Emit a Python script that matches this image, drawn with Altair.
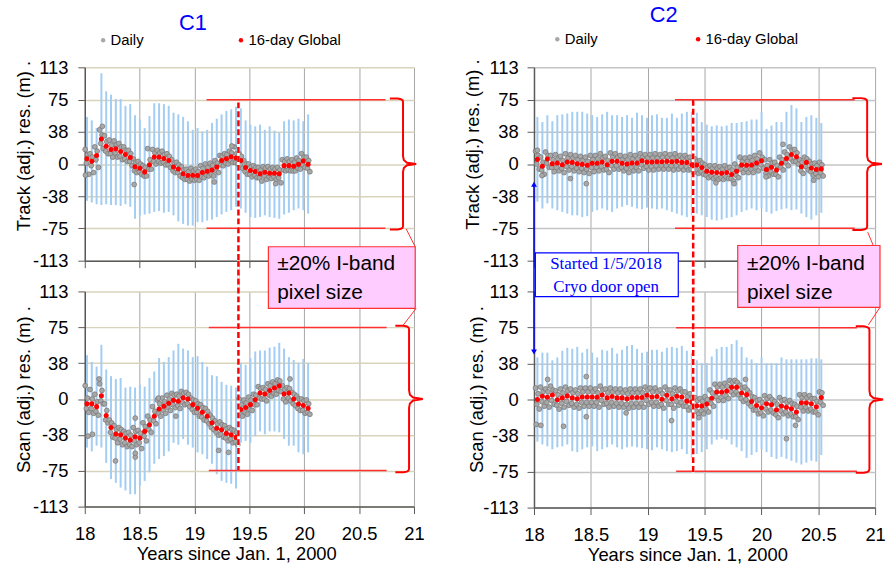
import altair as alt
import pandas as pd

# ---------------- data ----------------
DAYS_PER_YEAR = 365.25
BIN_DAYS = 16

SERIES = ["Daily", "16-day Global"]

# C1 ---------------------------------------------------------------
c1_start = 18.02
c1_track_mean = [6.1, 3.1, 10, 29.2, 20.7, 16.9, 17.7, 14.6, 11.1, 7.7, -3.1, -5, -9.2, -0.8, 8.1,
                 8.1, 6.5, 4.2, -3.5, -5.8, -11.5, -13.5, -13.1, -13.5, -10, -8.5, -6.9, -3.5, 4.2, 6.1,
                 8.5, 6.9, 4.2, -4.2, -7.7, -8.8, -11.5, -9.6, -10.8, -10.8, -11.5, -1.9, -1.9, -2.7, -0.4,
                 3.5, -0.4]
c1_track_bar_hi = [55, 51, 42, 106, 85, 81, 76, 76, 68, 70, 57, 52, 42, 56, 71, 71, 70, 68, 60, 58,
                   55, 50, 40, 42, 38, 40, 48, 53, 58, 62, 64, 67, 65, 51, 46, 44, 46, 40, 44, 39,
                   37, 50, 52, 51, 53, 50, 58]
c1_track_bar_lo = [-43, -45, -47, -48, -47, -48, -48, -49, -47, -50, -64, -60, -59, -58, -56, -55, -57,
                   -56, -60, -67, -70, -72, -72, -68, -68, -66, -65, -62, -59, -56, -54, -50, -52, -57,
                   -62, -63, -62, -60, -62, -63, -64, -59, -57, -54, -52, -54, -58]
# daily samples in each 16-day bin: outer high, inner low, inner high, outer low
c1_track_daily_hi = [17, 12, 20, 40, 33, 28, 27, 24, 20, 16, 6, 3, -2, 18, 17, 16, 15, 12, 5, 2,
                     -3, -6, -5, -6, -2, 0, 1, 4, 10, 12, 15, 20, 12, 4, 0, -2, -4, -3, -3, -4,
                     -4, 5, 6, 5, 7, 12, 8]
c1_track_daily_lo2 = [1, -2, 5, 24, 15, 12, 13, 9, 6, 3, -8, -9, -14, -6, 3, 3, 2, -1, -8, -10,
                      -16, -18, -18, -18, -15, -13, -12, -8, -1, 1, 4, 2, -1, -9, -12, -13, -16, -14,
                      -15, -15, -16, -7, -7, -8, -5, -1, -5]
c1_track_daily_hi2 = [11, 8, 15, 34, 26, 22, 22, 20, 16, 12, 2, 0, -4, 5, 13, 13, 11, 9, 1, -1,
                      -7, -9, -8, -9, -5, -4, -2, 1, 9, 11, 13, 12, 9, 0, -3, -4, -7, -5, -6, -6,
                      -7, 3, 3, 2, 4, 8, 4]
c1_track_daily_lo = [-12, -10, -4, 18, 12, 8, 8, 5, 3, -2, -10, -12, -14, -6, 0, 1, -1, -4, -10, -14,
                     -18, -20, -19, -19, -16, -14, -14, -10, -2, 0, 2, 0, -5, -12, -15, -16, -20, -18,
                     -17, -18, -22, -8, -8, -8, -6, -4, -9]
c1_track_out_t = [18.006, 18.16, 18.45, 19.18, 19.34, 19.74]
c1_track_out_v = [-13, 44, -24, -21, 21, -23]

c1_scan_mean = [-4.9, -4.9, -8, 3.5, -17.4, -29.9, -36.8, -37.5, -41, -43, -39.6, -41, -34, -27, -18,
                -10.4, -7.6, -4.5, -1.4, -2.4, 1.4, 0, -5.9, -9.7, -13.9, -18, -25, -30.6, -32.3, -36.1,
                -37.5, -40.3, -11.1, -9, -5.9, -0.7, 6.2, 5.2, 9, 11.5, 13.9, 5.2, 6.2, 0, -5.2,
                -6.9, -9.7]
c1_scan_bar_hi = [46, 39, 34, 57, 31, 24, 21, 22, 12, 13, 12, 15, 13, 22, 29, 43, 39, 44, 51, 58,
                  53, 51, 44, 45, 39, 34, 25, 24, 18, 15, 14, 12, 38, 36, 43, 50, 51, 51, 54, 55,
                  59, 53, 44, 41, 38, 42, 38]
c1_scan_bar_lo = [-51, -55, -49, -51, -67, -84, -88, -93, -96, -100, -100, -91, -86, -77, -68, -63, -60,
                  -55, -46, -48, -42, -48, -51, -56, -58, -63, -68, -79, -86, -88, -89, -94, -46, -44,
                  -46, -39, -34, -37, -34, -34, -35, -42, -49, -49, -56, -58, -56]
c1_scan_daily_hi = [14, 10, 5, 16, -5, -22, -28, -30, -34, -35, -30, -33, -25, -18, -8, -1, 1, 4, 6, 5,
                    8, 7, 1, -2, -6, -10, -17, -23, -24, -28, -30, -33, 0, -1, 2, 5, 13, 12, 16, 18,
                    20, 14, 12, 7, 3, 0, -1]
c1_scan_daily_lo2 = [-10, -10, -13, -2, -22, -35, -41, -42, -46, -48, -44, -46, -39, -32, -23, -15, -12,
                     -9, -6, -7, -4, -5, -11, -14, -19, -23, -30, -35, -37, -41, -42, -45, -16, -14,
                     -11, -6, 1, 0, 4, 6, 9, 0, 1, -5, -10, -12, -14]
c1_scan_daily_hi2 = [1, 0, -3, 9, -12, -25, -32, -32, -36, -38, -34, -36, -29, -22, -13, -5, -3, 0, 4, 3,
                     6, 5, -1, -5, -9, -13, -20, -26, -27, -31, -32, -35, -6, -4, -1, 4, 11, 10, 14, 16,
                     19, 10, 11, 5, 0, -2, -5]
c1_scan_daily_lo = [-14, -15, -17, -5, -25, -40, -46, -48, -50, -50, -48, -52, -44, -35, -26, -18, -15,
                    -12, -9, -10, -6, -8, -14, -18, -22, -26, -32, -38, -40, -44, -46, -48, -18, -16,
                    -12, -6, 0, -2, 3, 5, 8, -3, -2, -7, -12, -15, -16]
c1_scan_out_t = [18.03, 18.07, 18.28, 18.46, 18.46, 18.46, 18.67, 18.83, 19.22, 19.31, 18.13, 19.87]
c1_scan_out_v = [-39, -37, -65, -61, -57, -20, 1, -18, -54, -56, 21, 21]

# C2 ---------------------------------------------------------------
c2_start = 18.03
c2_track_mean = [5.4, -2.7, 5.8, 0.4, 1.2, -0.8, 2.3, 1.9, 0.4, -0.4, -1.5, 0.8, 0.8, 2.3, -0.8,
                 3.1, 3.1, 0.8, 0, 1.2, 1.2, 3.8, 2.3, 2.3, 2.7, 2.7, 3.1, 2.7, 3.1, 1.9,
                 1.9, -0.8, -1.2, -4.2, -8.5, -9.6, -10, -10.8, -10, -12.3, -8.5, -1.2, -1.5, -1.2, 1.2,
                 3.8, -6.5, -3.8, -6.9, 0.8, 6.5, 11.1, 8.4, -3.1, 1.9, -4.6, -6.5, -5.7]
c2_track_bar_hi = [55, 49, 57, 50, 57, 58, 59, 61, 61, 61, 59, 57, 55, 58, 61, 57, 57, 55, 57, 54,
                   60, 57, 54, 57, 58, 54, 54, 59, 54, 59, 61, 61, 60, 49, 46, 44, 45, 44, 45, 48,
                   48, 49, 50, 52, 52, 61, 41, 45, 49, 49, 61, 69, 65, 49, 55, 57, 54, 48]
c2_track_bar_lo = [-44, -52, -46, -52, -54, -56, -58, -60, -60, -62, -61, -56, -54, -52, -54, -56, -52,
                   -50, -48, -50, -52, -53, -51, -52, -53, -52, -54, -56, -58, -60, -62, -60, -58, -60,
                   -62, -65, -66, -65, -63, -62, -60, -56, -54, -52, -54, -52, -56, -58, -55, -53,
                   -52, -54, -53, -58, -62, -65, -60, -57]
c2_track_daily_hi = [15, 8, 14, 10, 11, 9, 12, 11, 10, 9, 8, 10, 10, 12, 9, 13, 12, 10, 9, 11,
                     10, 12, 11, 11, 12, 11, 12, 11, 12, 10, 10, 8, 6, 4, -1, -2, -2, -3, -2, -4,
                     0, 8, 7, 8, 10, 13, 5, 5, 2, 8, 14, 20, 17, 5, 8, 3, 1, 2]
c2_track_daily_lo2 = [0, -7, 1, -4, -4, -5, -3, -3, -5, -5, -6, -4, -4, -3, -6, -2, -2, -4, -5, -4,
                      -4, -1, -3, -3, -2, -2, -2, -2, -2, -3, -3, -6, -6, -9, -13, -14, -15, -16, -15,
                      -17, -13, -6, -6, -6, -4, -1, -11, -9, -12, -4, 2, 6, 3, -8, -3, -9, -11, -10]
c2_track_daily_hi2 = [10, 2, 10, 5, 6, 4, 7, 7, 5, 4, 3, 5, 6, 7, 4, 8, 8, 5, 5, 6, 6, 8, 7, 7, 7,
                      8, 8, 7, 8, 7, 7, 4, 3, 1, -4, -5, -5, -6, -5, -7, -4, 3, 3, 4, 6, 8, -2, 1, -2,
                      5, 11, 16, 13, 2, 6, 0, -2, -1]
c2_track_daily_lo = [-6, -12, -4, -9, -8, -10, -7, -8, -9, -10, -11, -9, -8, -7, -10, -6, -6, -8, -10,
                     -8, -8, -5, -7, -7, -6, -6, -6, -7, -6, -7, -7, -10, -11, -12, -16, -17, -18, -18,
                     -17, -20, -16, -10, -10, -10, -8, -5, -14, -12, -15, -7, -2, 3, 0, -11, -7, -13,
                     -15, -14]
c2_track_out_t = [18.03, 18.07, 18.32, 18.46, 19.6, 19.76, 20.04, 20.19, 20.46]
c2_track_out_v = [16, -13.5, -17, -23, -22, -23, -15, 23, -19]

c2_scan_mean = [0, 3.4, 2.4, 4.8, -0.3, 1.7, 3.8, 1.7, 0.7, 2.7, 2.7, 2.7, 2.4, 4.8, 1.7,
                3.1, 1.7, 1.7, 0.7, 2.1, 2.1, 2.1, 4.5, 2.7, 3.1, 0.3, 4.5, 0.7, 3.4, 2.7,
                -1.7, -2.7, -6.5, -6.8, -4.8, 1.4, 7.9, 7.5, 8.9, 12.7, 12.7, 6.8, 5.1, -2.1, -6.2,
                -8.6, -4.5, -5.5, -10.6, -6.8, -8.2, -9.6, -13, -3.4, -3.4, -4.5, -7.5, 2]
c2_scan_bar_hi = [44, 49, 49, 41, 44, 51, 54, 53, 55, 49, 53, 49, 44, 52, 51, 54, 48, 52, 56, 57,
                  53, 49, 50, 52, 52, 50, 54, 55, 54, 56, 51, 49, 41, 38, 38, 45, 53, 55, 55, 58,
                  62, 55, 44, 42, 38, 44, 38, 38, 38, 44, 42, 42, 42, 42, 42, 43, 43, 42]
c2_scan_bar_lo = [-44, -47, -49, -52, -50, -49, -47, -54, -55, -52, -50, -49, -54, -52, -50, -47, -50,
                  -52, -50, -49, -50, -51, -52, -53, -50, -52, -54, -55, -54, -52, -57, -61, -57, -55,
                  -52, -47, -42, -41, -42, -47, -50, -54, -61, -58, -55, -52, -55, -60, -62, -60,
                  -62, -64, -66, -68, -66, -64, -65, -58]
c2_scan_daily_hi = [12, 13, 11, 14, 9, 11, 13, 11, 10, 12, 12, 12, 11, 14, 11, 12, 11, 11, 10, 11,
                    11, 11, 13, 12, 12, 10, 13, 10, 12, 11, 8, 6, 2, 1, 3, 10, 16, 16, 17, 20,
                    20, 15, 13, 7, 2, 0, 4, 3, -2, 2, 0, -1, -5, 5, 5, 4, 1, 8]
c2_scan_daily_lo2 = [-5, -2, -3, -1, -6, -4, -2, -4, -5, -3, -3, -3, -3, -1, -4, -3, -4, -4, -5, -4,
                     -4, -4, -1, -3, -3, -5, -1, -5, -2, -3, -7, -8, -12, -12, -10, -4, 3, 2, 4, 8,
                     8, 1, 0, -7, -11, -14, -10, -11, -16, -12, -13, -15, -18, -8, -8, -10, -13, -3]
c2_scan_daily_hi2 = [6, 8, 8, 10, 5, 7, 9, 7, 6, 8, 8, 8, 7, 10, 7, 8, 7, 7, 6, 7, 7, 7, 10, 8, 8,
                     6, 10, 6, 9, 8, 3, 2, -1, -2, 0, 7, 13, 13, 14, 18, 18, 12, 10, 3, -1, -3, 1, 0,
                     -5, -1, -3, -4, -7, 2, 2, 1, -2, 7]
c2_scan_daily_lo = [-10, -7, -8, -5, -10, -8, -6, -8, -9, -7, -7, -7, -8, -5, -8, -7, -8, -8, -9, -8,
                    -8, -8, -5, -7, -7, -9, -5, -9, -6, -7, -11, -12, -15, -15, -13, -7, -1, -1, 1, 5,
                    5, -2, -4, -11, -15, -17, -13, -14, -19, -15, -17, -18, -21, -12, -12, -13, -16, -6]
c2_scan_out_t = [18.02, 18.06, 18.26, 18.46, 18.46, 18.12, 18.81, 19.21, 19.45, 19.86, 20.22, 20.3]
c2_scan_out_v = [-26, -27, -28, -18, 24, 21, -14, -22, -19, 21, -41, -27]

# annotation values (data units)
event_t = 19.4
band_limit = 75
Y_TICKS = [-113, -75.33, -37.67, 0, 37.67, 75.33, 113]
X_TICKS = [18, 18.5, 19, 19.5, 20, 20.5, 21]
DAILY_DAY_OFFSETS = [-6, -2, 2, 6]

# ---------------- styling ----------------
FONT = "Liberation Sans"
SERIF = "Liberation Serif"
BAR_BLUE = "#a3cdf3"
GRAY_FILL = "#a8a8a8"
GRAY_EDGE = "#7a7a7a"
RED = "#ff0000"
LINE_RED = "#ff3030"
AXIS_DARK = "#595959"
TAN = "#d9d3bb"
LIGHT_GRAY = "#c4c4c4"
VGRID = "#a6a6a6"
PINK = "#ffccff"
BLUE = "#0000ff"

STEP = BIN_DAYS / DAYS_PER_YEAR
XS = alt.Scale(domain=[18, 21], nice=False, zero=False)
YS = alt.Scale(domain=[-113, 113], nice=False, zero=False)

BRACE_U = [0, 0.3, 0.42, 0.48, 0.5, 0.5, 0.53, 0.65, 1, 0.65, 0.53, 0.5, 0.5, 0.48, 0.42, 0.3, 0]
BRACE_W = [1, 1, 0.99, 0.975, 0.95, 0.12, 0.06, 0.02, 0, -0.02, -0.06, -0.12, -0.95, -0.975, -0.99, -1, -1]


def bins_frame(start, mean, bar_hi, bar_lo):
    t = [start + i * STEP for i in range(len(mean))]
    return pd.DataFrame({"t": t, "v": mean, "hi": bar_hi, "lo": bar_lo, "series": SERIES[1]})


def daily_frame(start, samples, out_t, out_v):
    t, v = [], []
    for i, vals in enumerate(zip(*samples)):
        c = start + i * STEP
        for off, val in zip(DAILY_DAY_OFFSETS, vals):
            t.append(c + off / DAYS_PER_YEAR)
            v.append(val)
    t += list(out_t)
    v += list(out_v)
    return pd.DataFrame({"t": t, "v": v, "series": SERIES[0]})


def y_axis(title, tx, ty, grid, pad):
    return alt.Axis(values=Y_TICKS,
                    labelExpr="datum.value < 0 ? '-' + format(-datum.value, '.0f') : format(datum.value, '.0f')",
                    labelFlush=False,
                    title=title, titleX=tx, titleY=ty, titleAngle=-90, titleAlign="center",
                    titleBaseline="middle", titleFont=FONT, titleFontSize=18.5, titleFontWeight="normal",
                    titleColor="black", labelFont=FONT, labelFontSize=18.5, labelColor="black",
                    labelPadding=pad, tickSize=7, tickColor=AXIS_DARK, domainColor=AXIS_DARK,
                    domainWidth=1.5, gridColor=grid, gridWidth=1.5)


def x_axis(bottom, tx=0):
    if bottom:
        return alt.Axis(values=X_TICKS, format="~g", labelFlush=False,
                        title="Years since Jan. 1, 2000", titleX=tx,
                        titleY=47, titleAlign="center", titleBaseline="middle", titleFont=FONT,
                        titleFontSize=18.5, titleFontWeight="normal", titleColor="black",
                        labelFont=FONT, labelFontSize=18.5, labelColor="black", labelPadding=11,
                        tickSize=7, tickColor=AXIS_DARK, domainColor=AXIS_DARK, domainWidth=1.5,
                        gridColor=VGRID, gridWidth=1)
    return alt.Axis(values=X_TICKS, labels=False, title=None, tickSize=7, tickColor=AXIS_DARK,
                    domainColor=AXIS_DARK, domainWidth=1.5, gridColor=VGRID, gridWidth=1)


def panel(bins, daily, w, h, xa, ya, ann, legend=None):
    X = lambda f: alt.X(f, type="quantitative", scale=XS, axis=xa)
    Y = lambda f: alt.Y(f, type="quantitative", scale=YS, axis=ya)
    layers = []
    layers.append(alt.Chart(bins).mark_rule(color=BAR_BLUE, strokeWidth=2).encode(
        x=X("t"), y=Y("lo"), y2="hi"))
    if legend is not None:
        color = alt.Color("series:N", scale=alt.Scale(domain=SERIES, range=[GRAY_FILL, RED]),
                          legend=legend)
        layers.append(alt.Chart(daily).mark_point(shape="circle", filled=True, size=24, opacity=1,
                                                  stroke=GRAY_EDGE, strokeWidth=0.8).encode(
            x=X("t"), y=Y("v"), color=color))
        layers.append(alt.Chart(bins).mark_circle(size=26, opacity=1).encode(
            x=X("t"), y=Y("v"), color=color))
    else:
        layers.append(alt.Chart(daily).mark_point(shape="circle", filled=True, size=24, opacity=1,
                                                  color=GRAY_FILL, stroke=GRAY_EDGE,
                                                  strokeWidth=0.8).encode(x=X("t"), y=Y("v")))
        layers.append(alt.Chart(bins).mark_circle(size=26, opacity=1, color=RED).encode(
            x=X("t"), y=Y("v")))

    # limit lines at +-75
    x1, x2 = ann["hline"]
    hl = pd.DataFrame({"x1": [x1, x1], "x2": [x2, x2], "y": [band_limit, -band_limit]})
    layers.append(alt.Chart(hl).mark_rule(color=LINE_RED, strokeWidth=1.5).encode(
        x=X("x1"), x2="x2", y=Y("y")))
    # event line
    d_top, d_bot = ann["dash"]
    dl = pd.DataFrame({"x": [event_t], "y1": [d_top], "y2": [d_bot]})
    layers.append(alt.Chart(dl).mark_rule(color="white", strokeWidth=2.5).encode(
        x=X("x"), y=Y("y1"), y2="y2"))
    layers.append(alt.Chart(dl).mark_rule(color=RED, strokeWidth=2.5, strokeDash=[6, 3]).encode(
        x=X("x"), y=Y("y1"), y2="y2"))
    # brace
    bl, bt, half = ann["brace"]
    br = pd.DataFrame({"bx": [bl + u * (bt - bl) for u in BRACE_U],
                       "by": [wv * half for wv in BRACE_W], "k": list(range(len(BRACE_U)))})
    layers.append(alt.Chart(br).mark_line(color=RED, strokeWidth=2).encode(
        x=X("bx"), y=Y("by"), order="k:Q"))
    # boxes
    for bx in ann.get("boxes", []):
        df = pd.DataFrame({"x1": [bx["x"][0]], "x2": [bx["x"][1]], "y1": [bx["y"][0]], "y2": [bx["y"][1]]})
        layers.append(alt.Chart(df).mark_rect(fill=bx["fill"], stroke=bx["stroke"],
                                              strokeWidth=1.2).encode(
            x=X("x1"), x2="x2", y=Y("y1"), y2="y2"))
    for seg in ann.get("segments", []):
        df = pd.DataFrame({"x1": [seg["p"][0]], "y1": [seg["p"][1]], "x2": [seg["q"][0]], "y2": [seg["q"][1]]})
        layers.append(alt.Chart(df).mark_rule(color=seg["color"], strokeWidth=seg["w"]).encode(
            x=X("x1"), y=Y("y1"), x2="x2", y2="y2"))
    for tx in ann.get("texts", []):
        df = pd.DataFrame({"x": [tx["x"]] * len(tx["lines"]), "y": tx["ys"], "label": tx["lines"]})
        layers.append(alt.Chart(df).mark_text(align=tx["align"], baseline="middle", font=tx["font"],
                                              fontSize=tx["size"], color=tx["color"]).encode(
            x=X("x"), y=Y("y"), text="label:N"))
    for hd in ann.get("heads", []):
        df = pd.DataFrame({"x": [hd["x"]], "y": [hd["y"]]})
        layers.append(alt.Chart(df).mark_point(shape=hd["shape"], filled=True, size=35, color=BLUE,
                                               opacity=1).encode(x=X("x"), y=Y("y")))
    return alt.layer(*layers).properties(width=w, height=h)


def legend_params(lx, ly, cp):
    return alt.Legend(title=None, orient="none", legendX=lx, legendY=ly, direction="horizontal",
                      columnPadding=cp, labelFont=FONT, labelFontSize=15, labelColor="black",
                      symbolSize=20, symbolType="circle", labelOffset=0, padding=0,
                      symbolStrokeWidth=0)


def head_text(x, y, label):
    return {"x": x, "ys": [y], "lines": [label], "align": "center", "font": FONT, "size": 22,
            "color": BLUE}


ann_tl = {"hline": (19.11, 20.74), "dash": (72, -149), "brace": (20.78, 21.02, 76.5),
          "texts": [head_text(18.986, 164.5, "C1")]}
ann_bl = {"hline": (19.13, 20.75), "dash": (145.3, -75), "brace": (20.83, 21.08, 77),
          "boxes": [{"x": (19.673, 21.011), "y": (95.3, 159.9), "fill": PINK, "stroke": LINE_RED}],
          "segments": [{"p": (20.929, 178.6), "q": (21.011, 159.9), "color": LINE_RED, "w": 1},
                       {"p": (21.020, 95.3), "q": (20.902, 77.6), "color": LINE_RED, "w": 1}],
          "texts": [{"x": 19.754, "ys": [142.2, 110.9], "lines": ["\u00b120% I-band", "pixel size"],
                     "align": "left", "font": FONT, "size": 21, "color": "black"}]}
ann_tr = {"hline": (19.24, 20.82), "dash": (75, -149), "brace": (20.80, 21.06, 77),
          "texts": [head_text(19.14, 173.8, "C2")]}
ann_br = {"hline": (19.25, 20.84), "dash": (145, -76.4), "brace": (20.83, 21.07, 76.5),
          "boxes": [{"x": (19.792, 21.043), "y": (96.4, 161), "fill": PINK, "stroke": LINE_RED},
                    {"x": (18.012, 19.269), "y": (107.5, 153.4), "fill": "white", "stroke": BLUE}],
          "segments": [{"p": (20.935, 174.9), "q": (20.984, 161), "color": LINE_RED, "w": 1},
                       {"p": (21.043, 96.4), "q": (20.941, 78.1), "color": LINE_RED, "w": 1},
                       {"p": (18.0, 225), "q": (18.0, 49.7), "color": BLUE, "w": 1.5}],
          "texts": [{"x": 19.873, "ys": [142, 110.9], "lines": ["\u00b120% I-band", "pixel size"],
                     "align": "left", "font": FONT, "size": 21, "color": "black"},
                    {"x": 18.634, "ys": [142, 117.9], "lines": ["Started 1/5/2018", "Cryo door open"],
                     "align": "center", "font": SERIF, "size": 17, "color": BLUE}],
          "heads": [{"x": 18.0, "y": 225, "shape": "triangle-up"},
                    {"x": 18.0, "y": 49.7, "shape": "triangle-down"}]}

tl = panel(bins_frame(c1_start, c1_track_mean, c1_track_bar_hi, c1_track_bar_lo),
           daily_frame(c1_start, [c1_track_daily_hi, c1_track_daily_lo2, c1_track_daily_hi2,
                                  c1_track_daily_lo], c1_track_out_t, c1_track_out_v),
           332, 195, x_axis(False), y_axis("Track (adj.) res. (m) .", -62, 79, TAN, 10), ann_tl,
           legend=legend_params(11, -35, 90))
tr = panel(bins_frame(c2_start, c2_track_mean, c2_track_bar_hi, c2_track_bar_lo),
           daily_frame(c2_start, [c2_track_daily_hi, c2_track_daily_lo2, c2_track_daily_hi2,
                                  c2_track_daily_lo], c2_track_out_t, c2_track_out_v),
           344, 195, x_axis(False), y_axis("Track (adj.) res. (m) .", -62, 77.5, LIGHT_GRAY, 9), ann_tr,
           legend=legend_params(16, -36, 93))
bl = panel(bins_frame(c1_start, c1_scan_mean, c1_scan_bar_hi, c1_scan_bar_lo),
           daily_frame(c1_start, [c1_scan_daily_hi, c1_scan_daily_lo2, c1_scan_daily_hi2,
                                  c1_scan_daily_lo], c1_scan_out_t, c1_scan_out_v),
           332, 217, x_axis(True, 152.7), y_axis("Scan (adj.) res. (m) .", -61.5, 98.5, TAN, 10), ann_bl)
br = panel(bins_frame(c2_start, c2_scan_mean, c2_scan_bar_hi, c2_scan_bar_lo),
           daily_frame(c2_start, [c2_scan_daily_hi, c2_scan_daily_lo2, c2_scan_daily_hi2,
                                  c2_scan_daily_lo], c2_scan_out_t, c2_scan_out_v),
           344, 218, x_axis(True, 154.7), y_axis("Scan (adj.) res. (m) .", -58, 98.5, LIGHT_GRAY, 9), ann_br)

chart = (alt.concat(tl, tr, bl, br, columns=2, spacing={"row": 31, "column": 121},
                    bounds="flush", align="each")
         .resolve_scale(color="independent")
         .resolve_legend(color="independent")
         .properties(padding={"left": 13.5, "top": 1.5, "right": 0, "bottom": 0})
         .configure(font=FONT)
         .configure_view(stroke=None))

chart.save("out.html", embed_options={"renderer": "svg", "actions": False})
